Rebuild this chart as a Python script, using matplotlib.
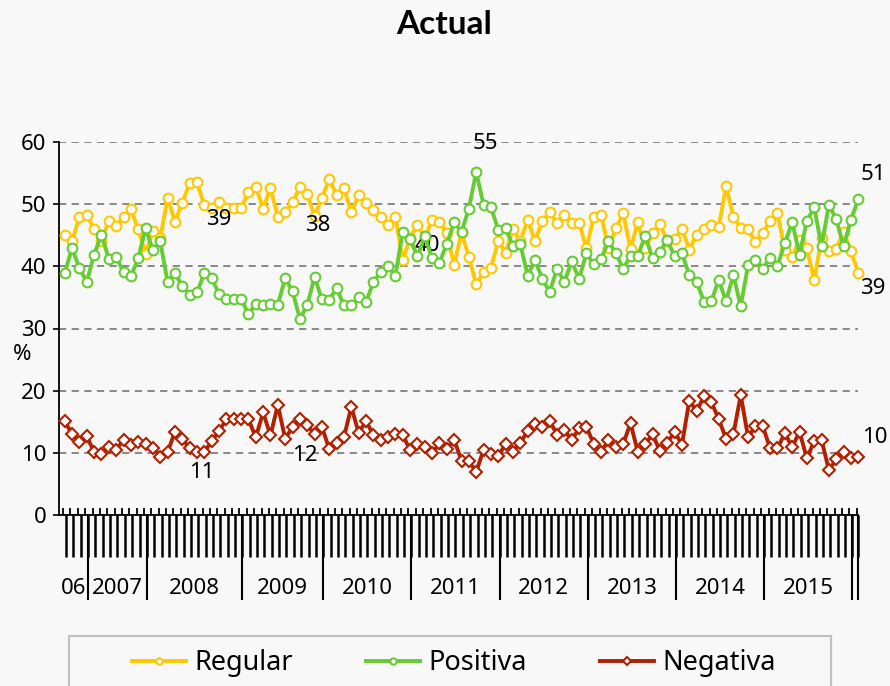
"""Encuesta: evaluacion actual (Regular / Positiva / Negativa), 2006-2016."""

import matplotlib

matplotlib.use("Agg")
import matplotlib.pyplot as plt
import matplotlib.transforms as mtransforms
from matplotlib.patches import Rectangle
import numpy as np

plt.rcParams["font.family"] = ["Noto Sans", "DejaVu Sans"]

# one value per survey, Sep 2006 .. Jan 2016
regular = [
    45, 44, 48, 48.3, 46, 44, 47.3, 46.5, 48, 49.2, 46, 42, 45.7, 44.5, 51, 47.2,
    50.2, 53.4, 53.5, 49.8, 49.4, 50.3, 49.4, 49.4, 49.4, 51.9, 52.8, 49.3, 52.6, 48,
    48.7, 50.3, 52.7, 51.6, 48.1, 51, 54, 51.5, 52.6, 48.7, 51.4, 50.2, 49.1, 48,
    46.7, 48, 41, 44.5, 46.7, 44.5, 47.5, 47.2, 45.3, 40.2, 45.5, 41.5, 37.1, 39.1,
    39.7, 44.1, 42.2, 46, 44, 47.5, 44.1, 47.3, 48.7, 47, 48.3, 46.9, 47, 42.9, 48,
    48.3, 42.9, 46.1, 48.5, 42.8, 47.1, 42.9, 45.3, 46.8, 44.1, 44.4, 46, 42.7, 45.1,
    46, 46.6, 46.3, 52.9, 48, 46.1, 46, 43.9, 45.3, 47.3, 48.5, 42.6, 41.5, 44.2,
    42.9, 37.8, 44.5, 42.4, 42.8, 45.6, 42.4, 39,
]
positiva = [
    39, 42.9, 39.7, 37.5, 41.9, 45.1, 41.2, 41.5, 39.1, 38.4, 41.3, 46.1, 42.6, 44,
    37.5, 38.9, 36.8, 35.4, 35.8, 38.9, 38.1, 35.5, 34.8, 34.8, 34.8, 32.3, 34, 33.7,
    33.9, 33.8, 38.1, 36, 31.6, 33.7, 38.3, 34.7, 34.6, 36.5, 33.7, 33.7, 35, 34.2,
    37.5, 39.1, 40, 38.5, 45.6, 44.4, 41.6, 44.8, 41.3, 40.6, 43.6, 47.1, 45.5, 49.3,
    55.2, 49.9, 49.5, 45.9, 46.1, 43.3, 43.6, 38.5, 41, 38, 35.9, 39.6, 37.5, 40.8,
    38, 42.1, 40.3, 41.2, 44, 42.1, 39.6, 41.7, 41.7, 44.9, 41.3, 42.3, 44.2, 41.6,
    42.1, 38.6, 37.5, 34.3, 34.4, 37.8, 34.4, 38.6, 33.6, 40.2, 41, 39.6, 41.4, 40.1,
    43.7, 47.1, 41.9, 47.3, 49.5, 43.2, 49.9, 47.6, 43.2, 47.5, 50.8,
]
negativa = [
    15.1, 13, 11.8, 12.7, 10.1, 9.8, 10.9, 10.5, 12.1, 11.3, 11.8, 11.5, 10.8, 9.4,
    10.1, 13.4, 12.3, 10.7, 10.1, 10.1, 11.9, 13.5, 15.4, 15.4, 15.4, 15.4, 12.5,
    16.5, 12.8, 17.7, 12.3, 14.1, 15.5, 14.5, 13, 14.2, 10.6, 11.6, 12.5, 17.4, 13.2,
    15.1, 12.9, 12.1, 12.5, 13.1, 12.9, 10.4, 11.4, 10.9, 9.9, 11.6, 10.6, 12.1, 8.7,
    8.7, 6.9, 10.5, 9.8, 9.5, 11.4, 10.2, 11.6, 13.5, 14.7, 14.1, 15.2, 12.9, 13.7,
    12, 14, 14.2, 11.4, 10.1, 12.1, 11, 11.4, 14.8, 10.1, 11.4, 13, 10.3, 11.6, 13.4,
    11.3, 18.4, 16.7, 19.1, 18.2, 15.4, 12.3, 13, 19.3, 12.5, 14.3, 14.3, 10.7, 10.7,
    13.2, 10.9, 13.4, 9.1, 11.9, 12.1, 7.2, 9, 10.2, 9.2, 9.3,
]

year_labels = ["06", "2007", "2008", "2009", "2010", "2011", "2012", "2013", "2014", "2015"]
year_counts = [4, 8, 13, 11, 12, 12, 12, 12, 12, 12]  # one more survey (2016) at the end

# data labels: (text, series, index)
labels = [
    ("39", "positiva", 19), ("38", "positiva", 34), ("40", "positiva", 49),
    ("55", "positiva", 56), ("51", "positiva", 108), ("39", "regular", 108),
    ("11", "negativa", 18), ("12", "negativa", 32), ("10", "negativa", 108),
]
label_offsets = {  # (dx categories, dy %)
    19: (1.9, 8.6), 34: (0.5, 8.2), 49: (0.4, -1.5), 56: (1.3, 4.6),
    ("positiva", 108): (2.0, 3.9), ("regular", 108): (2.0, -2.5),
    18: (0.7, -3.3), 32: (0.7, -6.0), ("negativa", 108): (2.2, 3.1),
}

YELLOW = "#FFC800"
GREEN = "#66CC33"
RED = "#B22000"
BG = "#F8F8F8"

W, H = 890, 686
fig = plt.figure(figsize=(W / 100, H / 100), dpi=100, facecolor=BG)
ax = fig.add_axes([58.7 / W, 1 - 515 / H, (858.3 - 58.7) / W, (515 - 142) / H])
ax.set_facecolor(BG)

n = len(regular)
x = np.arange(n)
x0 = -0.82
ax.set_xlim(x0, n - 1)
ax.set_ylim(0, 60)

ax.grid(axis="y", color="#808080", ls=(0, (4, 3)), lw=1.3)
ax.set_axisbelow(True)

series = {"regular": regular, "positiva": positiva, "negativa": negativa}
ax.plot(x, regular, color=YELLOW, lw=2.8, marker="o", ms=7, mfc="white",
        mec=YELLOW, mew=1.5, label="Regular", clip_on=False, zorder=3)
ax.plot(x, positiva, color=GREEN, lw=2.8, marker="o", ms=7, mfc="white",
        mec=GREEN, mew=1.5, label="Positiva", clip_on=False, zorder=4)
ax.plot(x, negativa, color=RED, lw=2.8, marker="D", ms=6, mfc="white",
        mec=RED, mew=1.5, label="Negativa", clip_on=False, zorder=3)

for txt, name, i in labels:
    dx, dy = label_offsets.get(i if i != 108 else (name, i))
    ax.text(i + dx, series[name][i] + dy, txt, ha="center", va="center",
            fontsize=16, color="black", clip_on=False)

for s in ["top", "right"]:
    ax.spines[s].set_visible(False)
for s in ["left", "bottom"]:
    ax.spines[s].set_color("black")
    ax.spines[s].set_linewidth(1.3)

ax.set_yticks(range(0, 61, 10))
ax.tick_params(axis="y", length=4, width=1.2, pad=5, labelsize=16)
ax.set_xticks([])
ax.text(-0.046, 0.43, "%", transform=ax.transAxes, fontsize=16, ha="center", va="center")

# category ticks and year groups below the axis
tr = mtransforms.blended_transform_factory(ax.transData, ax.transAxes)
short_x = np.arange(n) - 0.22
ax.vlines(short_x, 0, 0.019, transform=tr, color="black", lw=1.3, clip_on=False)
long_x = np.append(x0 + np.arange(1, n), n - 1)
ax.vlines(long_x, -0.113, 0, transform=tr, color="black", lw=1.8, clip_on=False)
bounds = x0 + np.concatenate([[0], np.cumsum(year_counts)])
ax.vlines(list(bounds[1:]) + [n - 1], -0.228, 0, transform=tr, color="black",
          lw=1.5, clip_on=False)
for k, yl in enumerate(year_labels):
    ax.text((bounds[k] + bounds[k + 1]) / 2, -0.196, yl, transform=tr,
            ha="center", va="center", fontsize=16)

fig.text(444 / W, 1 - 24 / H, "Actual", ha="center", va="center",
         fontsize=24, fontweight="bold", family=["Lato", "DejaVu Sans"])

fig.patches.append(Rectangle((69 / W, -0.05), (831 - 69) / W, 0.05 + (686 - 636) / H,
                             transform=fig.transFigure, fill=False,
                             edgecolor="#C0C0C0", lw=1.5))
fig.legend(loc="center", bbox_to_anchor=(454 / W, 1 - 663 / H), ncol=3,
           frameon=False, fontsize=19.5, handlelength=2.0, handletextpad=0.3,
           columnspacing=2.7, markerscale=0.65)

fig.savefig("out.png", dpi=100, facecolor=BG)
